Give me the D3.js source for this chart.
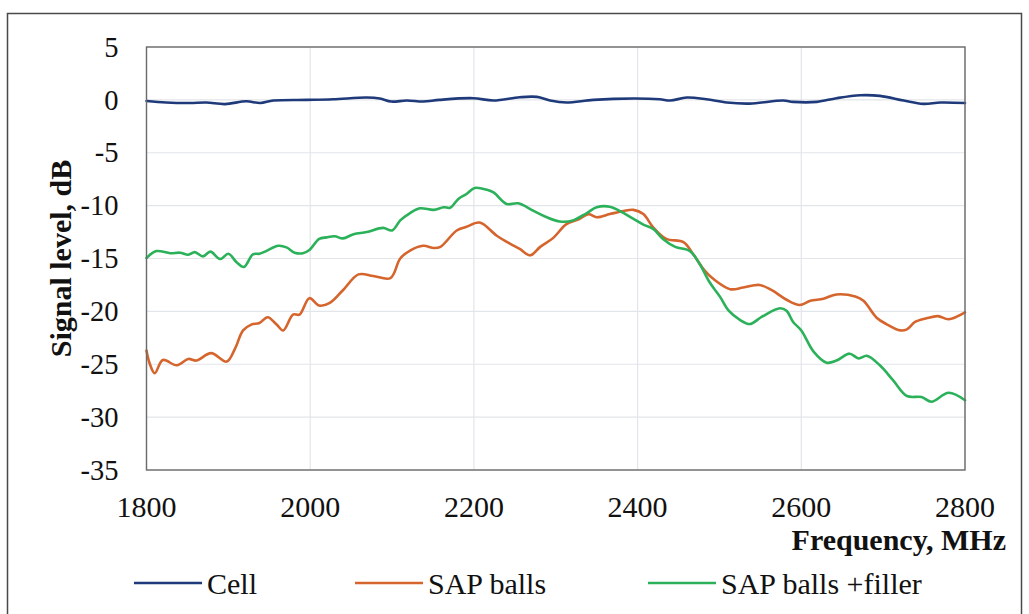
<!DOCTYPE html>
<html>
<head>
<meta charset="utf-8">
<script src="https://cdn.jsdelivr.net/npm/d3@7/dist/d3.min.js"></script>
</head>
<body style="margin:0">
<svg id="fig" width="1029" height="614"></svg>
<script>
// Frequency sweep of received signal level for three sample configurations
const xTicks = [1800, 2000, 2200, 2400, 2600, 2800];
const yTicks = [5, 0, -5, -10, -15, -20, -25, -30, -35];

const cellFreq = [1800, 1824, 1853, 1873, 1896, 1922, 1939, 1955, 1996, 2028, 2069, 2085, 2099, 2118, 2138, 2158, 2199, 2224, 2256, 2277, 2293, 2313, 2346, 2395, 2427, 2440, 2460, 2484, 2509, 2537, 2578, 2590, 2619, 2643, 2672, 2696, 2725, 2749, 2770, 2800];
const cellLevel = [-0.1, -0.25, -0.3, -0.25, -0.4, -0.13, -0.3, -0.06, 0, 0.06, 0.22, 0.13, -0.16, -0.06, -0.16, 0, 0.16, -0.06, 0.25, 0.28, -0.06, -0.25, 0, 0.13, 0.06, -0.06, 0.22, 0.06, -0.25, -0.35, -0.06, -0.19, -0.19, 0.16, 0.44, 0.38, -0.06, -0.38, -0.25, -0.3];

const sapFreq = [1800, 1804, 1810, 1820, 1837, 1851, 1861, 1879, 1898, 1908, 1918, 1928, 1938, 1948, 1959, 1967, 1979, 1987, 1999, 2011, 2024, 2040, 2059, 2077, 2098, 2110, 2122, 2138, 2151, 2159, 2179, 2191, 2207, 2228, 2244, 2256, 2269, 2281, 2297, 2313, 2328, 2340, 2350, 2366, 2383, 2395, 2407, 2419, 2435, 2456, 2468, 2482, 2492, 2513, 2529, 2549, 2564, 2582, 2598, 2611, 2627, 2643, 2666, 2676, 2692, 2704, 2721, 2729, 2739, 2753, 2767, 2780, 2800];
const sapLevel = [-23.7, -24.96, -25.85, -24.6, -25.1, -24.5, -24.65, -23.95, -24.75, -23.55, -21.8, -21.25, -21.1, -20.55, -21.25, -21.8, -20.3, -20.3, -18.75, -19.45, -19.2, -18.0, -16.5, -16.65, -16.85, -15.0, -14.25, -13.8, -14.0, -13.9, -12.35, -12.0, -11.6, -12.85, -13.6, -14.1, -14.7, -13.9, -13.05, -11.75, -11.3, -10.8, -11.1, -10.8, -10.5, -10.4, -10.8, -12.05, -13.15, -13.45, -14.6, -16.15, -16.9, -17.9, -17.75, -17.5, -18.0, -18.9, -19.4, -19.0, -18.8, -18.4, -18.6, -19.0, -20.6, -21.2, -21.8, -21.7, -21.0, -20.65, -20.45, -20.75, -20.1];

const fillerFreq = [1800, 1812, 1829, 1841, 1851, 1859, 1869, 1878, 1890, 1900, 1910, 1919, 1930, 1938, 1946, 1961, 1971, 1981, 1991, 1999, 2011, 2020, 2030, 2040, 2053, 2069, 2089, 2100, 2110, 2122, 2134, 2151, 2163, 2171, 2181, 2191, 2201, 2216, 2224, 2240, 2254, 2273, 2289, 2305, 2321, 2338, 2350, 2366, 2378, 2395, 2407, 2419, 2431, 2446, 2464, 2476, 2488, 2501, 2511, 2525, 2537, 2552, 2574, 2582, 2590, 2600, 2615, 2631, 2643, 2659, 2670, 2680, 2696, 2712, 2729, 2747, 2759, 2780, 2800];
const fillerLevel = [-14.95, -14.3, -14.5, -14.45, -14.65, -14.4, -14.8, -14.35, -15.05, -14.55, -15.35, -15.8, -14.6, -14.55, -14.3, -13.8, -13.95, -14.45, -14.5, -14.2, -13.15, -13.0, -12.9, -13.1, -12.7, -12.5, -12.1, -12.35, -11.4, -10.7, -10.25, -10.4, -10.15, -10.2, -9.37, -8.9, -8.33, -8.5, -8.75, -9.84, -9.78, -10.5, -11.1, -11.5, -11.4, -10.7, -10.15, -10.1, -10.5, -11.25, -11.8, -12.2, -13.15, -13.9, -14.3, -15.55, -17.25, -18.65, -19.9, -20.8, -21.2, -20.5, -19.7, -19.95, -21.0, -21.8, -23.8, -24.85, -24.65, -24.0, -24.45, -24.2, -25.1, -26.5, -28.0, -28.1, -28.55, -27.7, -28.4];

const seriesNames = ["Cell", "SAP balls", "SAP balls +filler"];
const seriesColors = ["#1f3a7a", "#d5652d", "#2bb159"];

const series = [
  { name: seriesNames[0], color: seriesColors[0], freq: cellFreq, level: cellLevel },
  { name: seriesNames[1], color: seriesColors[1], freq: sapFreq, level: sapLevel },
  { name: seriesNames[2], color: seriesColors[2], freq: fillerFreq, level: fillerLevel }
];

const FONT = '"Liberation Serif"';

const svg = d3.select("#fig");
const plot = { left: 146.5, right: 965, top: 47, bottom: 470 };

const x = d3.scaleLinear().domain([1800, 2800]).range([plot.left, plot.right]);
const y = d3.scaleLinear().domain([-35, 5]).range([plot.bottom, plot.top]);

// white page background
svg.append("rect").attr("width", 1029).attr("height", 614).attr("fill", "#fff");

// outer frame
svg.append("rect")
  .attr("x", 7.5).attr("y", 13.5)
  .attr("width", 1014).attr("height", 620)
  .attr("fill", "none").attr("stroke", "#4a4a4a").attr("stroke-width", 1.5);

// gridlines
const grid = svg.append("g");
grid.selectAll("line.h").data(yTicks).join("line")
  .attr("x1", plot.left).attr("x2", plot.right)
  .attr("y1", d => y(d)).attr("y2", d => y(d))
  .attr("stroke", "#e2e5ea").attr("stroke-width", 1.2);
grid.selectAll("line.v").data(xTicks).join("line")
  .attr("y1", plot.top).attr("y2", plot.bottom)
  .attr("x1", d => x(d)).attr("x2", d => x(d))
  .attr("stroke", "#e2e5ea").attr("stroke-width", 1.2);

// data lines
const line = d3.line()
  .x(d => x(d[0]))
  .y(d => y(d[1]))
  .curve(d3.curveCatmullRom.alpha(0.5));

svg.append("g").selectAll("path").data(series).join("path")
  .attr("d", s => line(s.freq.map((f, i) => [f, s.level[i]])))
  .attr("fill", "none")
  .attr("stroke", s => s.color)
  .attr("stroke-width", 2.6)
  .attr("stroke-linejoin", "round")
  .attr("stroke-linecap", "round");

// plot border
svg.append("rect")
  .attr("x", plot.left).attr("y", plot.top)
  .attr("width", plot.right - plot.left).attr("height", plot.bottom - plot.top)
  .attr("fill", "none").attr("stroke", "#6b6b6b").attr("stroke-width", 1.4);

// tick labels, placed through the scales
svg.append("g").selectAll("text").data(xTicks).join("text")
  .attr("x", d => x(d)).attr("y", plot.bottom + 46.5)
  .attr("text-anchor", "middle")
  .attr("font-size", 30).attr("fill", "#111")
  .style("font-family", FONT, "important")
  .text(d => String(d));

svg.append("g").selectAll("text").data(yTicks).join("text")
  .attr("x", plot.left - 28).attr("y", d => y(d))
  .attr("dy", "0.34em")
  .attr("text-anchor", "end")
  .attr("font-size", 28.5).attr("fill", "#111")
  .style("font-family", FONT, "important")
  .text(d => String(d));

// axis titles
svg.append("text")
  .attr("x", 1006).attr("y", 550)
  .attr("text-anchor", "end")
  .attr("font-size", 30).attr("font-weight", "bold").attr("fill", "#111")
  .style("font-family", FONT, "important")
  .text("Frequency, MHz");

svg.append("text")
  .attr("transform", `translate(71,${(plot.top + plot.bottom) / 2}) rotate(-90)`)
  .attr("text-anchor", "middle")
  .attr("font-size", 30).attr("font-weight", "bold").attr("fill", "#111")
  .style("font-family", FONT, "important")
  .text("Signal level, dB");

// legend
const legendX = [134, 355, 648];
const legend = svg.append("g").selectAll("g").data(series).join("g")
  .attr("transform", (d, i) => `translate(${legendX[i]},583)`);
legend.append("line")
  .attr("x1", 0).attr("x2", 68).attr("y1", 0).attr("y2", 0)
  .attr("stroke", d => d.color).attr("stroke-width", 2.6);
legend.append("text")
  .attr("x", 73).attr("y", 10.5)
  .attr("font-size", 30).attr("fill", "#111")
  .style("font-family", FONT, "important")
  .text(d => d.name);
</script>
</body>
</html>
